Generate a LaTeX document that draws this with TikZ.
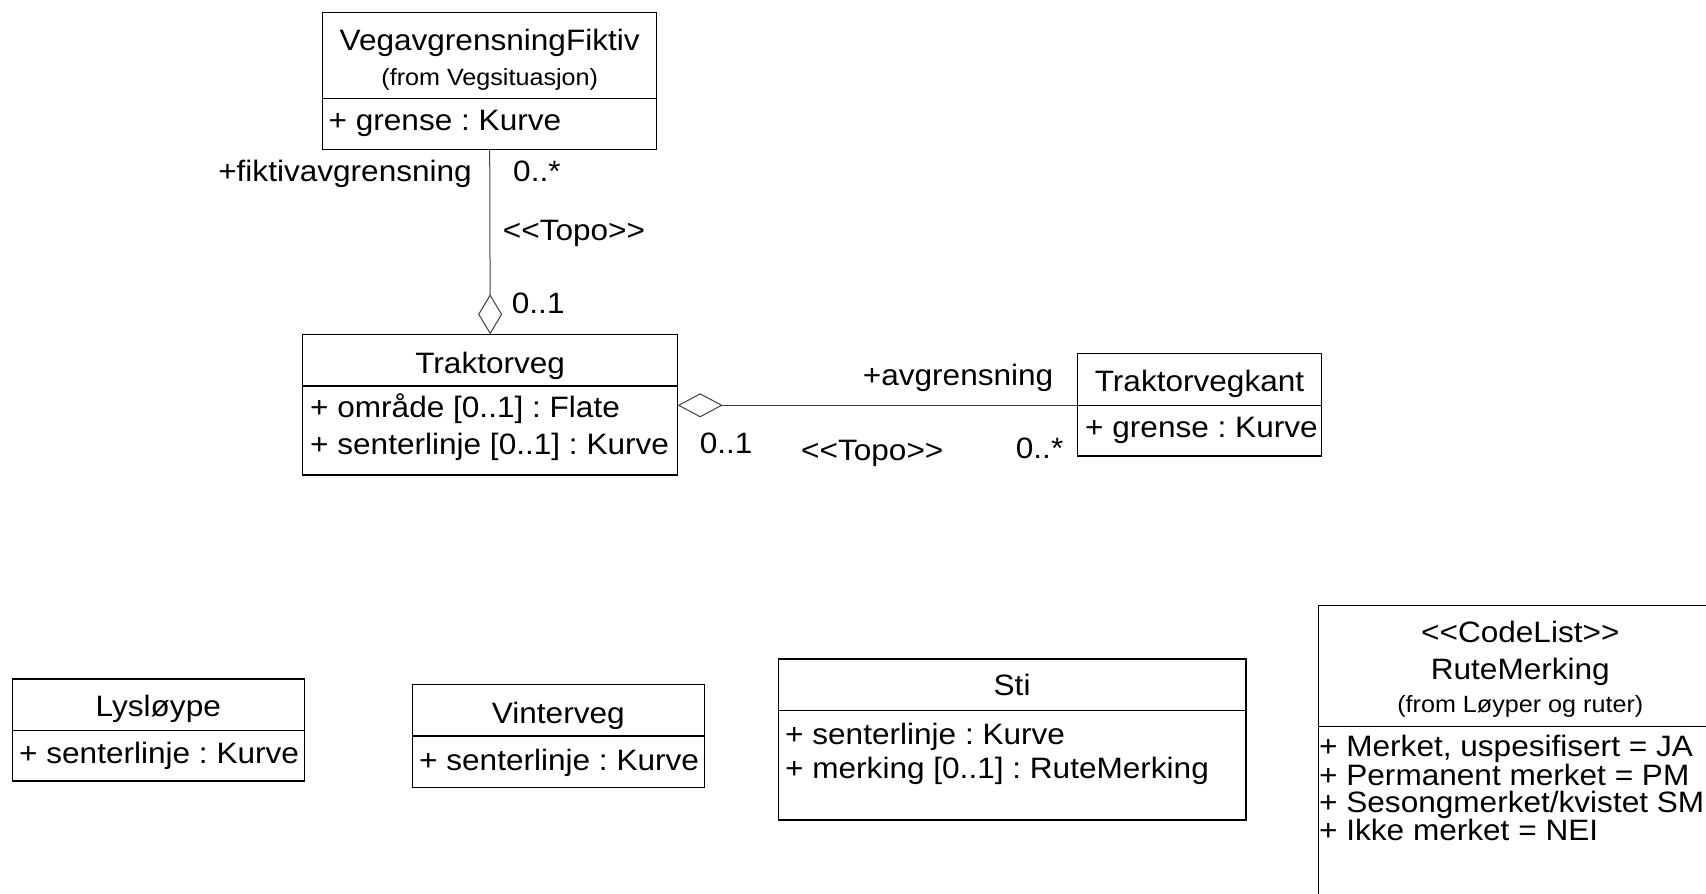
\documentclass[tikz,border=0pt]{standalone}
\usepackage{fontspec}
\setmainfont{Liberation Sans}[Ligatures=TeXOff, FakeStretch=1.07]
\usetikzlibrary{positioning,arrows.meta}
\frenchspacing

\tikzset{
  compartment/.style={draw=black, line width=1.2pt, inner sep=0pt, outer sep=0pt},
  umltext/.style={font=\fontsize{29.5}{34}\selectfont, inner sep=0pt},
  fromtext/.style={font=\fontsize{23.5}{28}\selectfont, inner sep=0pt},
  assoc/.style={draw=black!75, line width=1pt},
}

\begin{document}
\begin{tikzpicture}[x=1pt,y=-1pt]
  % page, RuteMerking runs off the right and bottom edge
  \fill[white] (0,0) rectangle (1706,894);
  \useasboundingbox (0,0) rectangle (1706,894);
  \clip (0,0) rectangle (1706,894);

  % class boxes
  \node[compartment, anchor=north west, minimum width=334pt, minimum height=86.4pt] (fiktiv) at (322.7,12.3) {};
  \node[compartment, below=0pt of fiktiv, minimum width=334pt, minimum height=50.6pt] (fiktivattr) {};
  \node[compartment, anchor=north west, minimum width=375pt, minimum height=51.7pt] (trak) at (302.7,334.3) {};
  \node[compartment, below=0pt of trak, minimum width=375pt, minimum height=89pt] (trakattr) {};
  \node[compartment, anchor=north west, minimum width=244.4pt, minimum height=52pt] (kant) at (1077.3,353.3) {};
  \node[compartment, below=0pt of kant, minimum width=244.4pt, minimum height=50.7pt] (kantattr) {};
  \node[compartment, anchor=north west, minimum width=292pt, minimum height=51.7pt] (lys) at (12.3,679) {};
  \node[compartment, below=0pt of lys, minimum width=292pt, minimum height=50.3pt] (lysattr) {};
  \node[compartment, anchor=north west, minimum width=292pt, minimum height=51.7pt] (vinter) at (412.3,684.3) {};
  \node[compartment, below=0pt of vinter, minimum width=292pt, minimum height=51.3pt] (vinterattr) {};
  \node[compartment, anchor=north west, minimum width=467.7pt, minimum height=51.3pt] (sti) at (778.3,659) {};
  \node[compartment, below=0pt of sti, minimum width=467.7pt, minimum height=109.7pt] (stiattr) {};
  \node[compartment, anchor=north west, minimum width=404pt, minimum height=121pt] (rute) at (1318.3,605.5) {};
  \node[compartment, below=0pt of rute, minimum width=404pt, minimum height=200pt] (ruteattr) {};

  % associations
  \draw[assoc, {Diamond[open, fill=white, length=40pt, width=24pt]}-] (trak.north) -- (fiktivattr.south);
  \draw[assoc, -{Diamond[open, fill=white, length=45pt, width=24pt]}] (kant.south west) -- (kant.south west -| trakattr.east);

  % VegavgrensningFiktiv
  \node[umltext, anchor=base] (fiktivname) at (489.7,50.5) {VegavgrensningFiktiv};
  \node[fromtext, anchor=base] (fiktivfrom) at (489.7,85) {(from Vegsituasjon)};
  \node[umltext, anchor=base west] (fiktivgrense) at (328.5,130.7) {+ grense : Kurve};
  \node[umltext, anchor=base east] (rolefiktiv) at (472,181.7) {+fiktivavgrensning};
  \node[umltext, anchor=base west] (multfiktiv) at (513,181.7) {0..*};
  \node[umltext, anchor=base west] (topoa) at (502.7,240.7) {<<Topo>>};
  \node[umltext, anchor=base west] (multtraka) at (511.7,313.3) {0..1};

  % Traktorveg and Traktorvegkant
  \node[umltext, anchor=base] (trakname) at (490.2,373.3) {Traktorveg};
  \node[umltext, anchor=base west] (trakomr) at (310,417.7) {+ område [0..1] : Flate};
  \node[umltext, anchor=base west] (traksenter) at (310,454.4) {+ senterlinje [0..1] : Kurve};
  \node[umltext, anchor=base west] (roleavgr) at (862.7,385) {+avgrensning};
  \node[umltext, anchor=base west] (multtrakb) at (699.6,453.3) {0..1};
  \node[umltext, anchor=base west] (topob) at (801,460) {<<Topo>>};
  \node[umltext, anchor=base west] (multkant) at (1015.7,458.3) {0..*};
  \node[umltext, anchor=base] (kantname) at (1199.5,391) {Traktorvegkant};
  \node[umltext, anchor=base west] (kantgrense) at (1085,437) {+ grense : Kurve};

  % lower row
  \node[umltext, anchor=base] (lysname) at (158.3,716) {Lysløype};
  \node[umltext, anchor=base west] (lyssenter) at (19,763.3) {+ senterlinje : Kurve};
  \node[umltext, anchor=base] (vintername) at (558.3,723.3) {Vinterveg};
  \node[umltext, anchor=base west] (vintersenter) at (419,770) {+ senterlinje : Kurve};
  \node[umltext, anchor=base] (stiname) at (1012.1,695) {Sti};
  \node[umltext, anchor=base west] (stisenter) at (785,744) {+ senterlinje : Kurve};
  \node[umltext, anchor=base west] (stimerking) at (785,778.3) {+ merking [0..1] : RuteMerking};

  % RuteMerking
  \node[umltext, anchor=base] (rutestereo) at (1520.3,642) {<<CodeList>>};
  \node[umltext, anchor=base] (rutename) at (1520.3,679) {RuteMerking};
  \node[fromtext, anchor=base] (rutefrom) at (1520.3,712) {(from Løyper og ruter)};
  \node[umltext, anchor=base west] (rutemerket) at (1319,756.7) {+ Merket, uspesifisert = JA};
  \node[umltext, anchor=base west] (rutepm) at (1319,785) {+ Permanent merket = PM};
  \node[umltext, anchor=base west] (rutesm) at (1319,812.7) {+ Sesongmerket/kvistet SM};
  \node[umltext, anchor=base west] (rutenei) at (1319,840) {+ Ikke merket = NEI};
\end{tikzpicture}
\end{document}
